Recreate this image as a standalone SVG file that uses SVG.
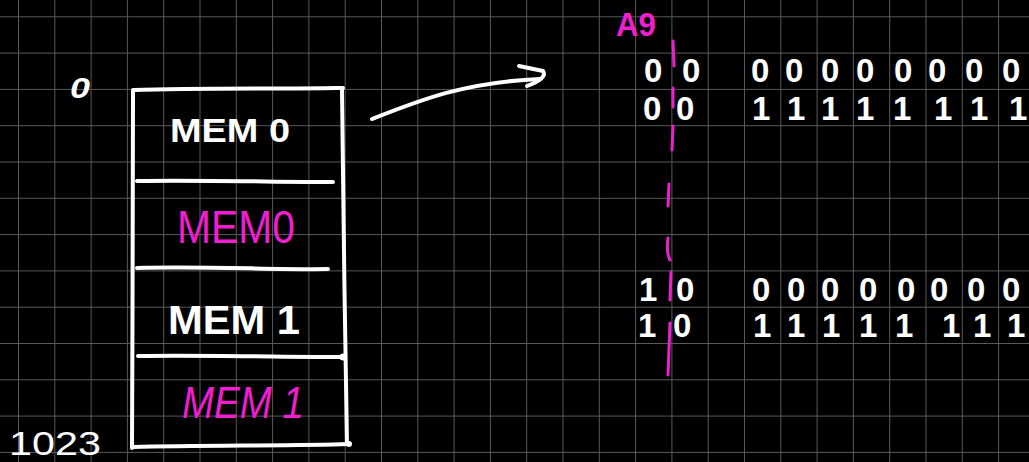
<svg xmlns="http://www.w3.org/2000/svg" width="1029" height="462" viewBox="0 0 1029 462">
<defs>
<pattern id="grid" x="18" y="16.3" width="36.3" height="36.3" patternUnits="userSpaceOnUse">
<path d="M0.5,0 V36.3 M0,0.5 H36.3" stroke="#5a5a5a" stroke-width="1" fill="none"/>
</pattern>
</defs>
<style>
.ink{fill:none;stroke:#ffffff;stroke-width:4;stroke-linecap:round;stroke-linejoin:round}
.pink{fill:none;stroke:#ef1fcf;stroke-width:3;stroke-linecap:round}
.w{fill:#ffffff;font-family:"Liberation Sans",Arial,sans-serif;font-weight:bold}
.m{fill:#ef1fcf;font-family:"Liberation Sans",Arial,sans-serif}
.d{fill:#ffffff;font-family:"Liberation Sans",Arial,sans-serif;font-weight:bold;font-size:33px}
</style>
<rect width="1029" height="462" fill="#000"/>
<rect width="1029" height="462" fill="url(#grid)"/>

<g id="memory-block">
<path class="ink" d="M133,92 C132,200 133,330 132,448"/>
<path class="ink" d="M133,90 C200,88 280,89 337,88 L343,88"/>
<path class="ink" d="M342,90 C343,200 345,330 347,444"/>
<path class="ink" d="M137,181 C200,180 280,182 333,182"/>
<path class="ink" d="M137,268 C200,266 280,270 328,269"/>
<path class="ink" d="M138,356 C200,355 290,357 343,357"/>
<path class="ink" d="M133,447 C200,445 290,446 349,444"/>
<circle cx="343" cy="357" r="3.5" fill="#fff"/>
<circle cx="349" cy="444" r="3" fill="#fff"/>
</g>

<g id="mem0-white">
<text class="w" x="170" y="142" font-size="34" textLength="120" lengthAdjust="spacingAndGlyphs">MEM 0</text>
</g>
<g id="mem0-pink">
<text class="m" x="177" y="243" font-size="46" textLength="118" lengthAdjust="spacingAndGlyphs">MEM0</text>
</g>
<g id="mem1-white">
<text class="w" x="168" y="334" font-size="40" textLength="132" lengthAdjust="spacingAndGlyphs">MEM 1</text>
</g>
<g id="mem1-pink">
<text class="m" x="182" y="418" font-size="44" font-style="italic" textLength="122" lengthAdjust="spacingAndGlyphs">MEM 1</text>
</g>

<g id="addr-labels">
<text class="w" x="70" y="98" font-size="29" font-style="italic" textLength="20" lengthAdjust="spacingAndGlyphs">0</text>
<text class="w" x="9" y="455" font-size="34" style="font-weight:normal" textLength="92" lengthAdjust="spacingAndGlyphs">1023</text>
<text class="m" x="616" y="36" font-size="34" font-weight="bold" textLength="40" lengthAdjust="spacingAndGlyphs">A9</text>
</g>

<g id="connectors">
<path class="ink" d="M372,119 C420,100 465,82 540,79"/>
<path class="ink" d="M519,66 L543,71 Q548,78 527,86"/>
<path class="pink" d="M673,41 L674,66"/>
<path class="pink" d="M673,88 L673,107"/>
<path class="pink" d="M673,126 L672,150"/>
<path class="pink" d="M669,184 L668,206"/>
<path class="pink" d="M668,238 Q666,252 670,260"/>
<path class="pink" d="M671,272 L670,300"/>
<path class="pink" d="M670,323 L668,375"/>
</g>

<g id="bits">
<text class="d" x="644 682 751 785 821 856 894 928 965 1002" y="82">0000000000</text>
<text class="d" x="643 676 752 787 821 856 893 934 970 1009" y="120">0011111111</text>
<text class="d" x="639 676 752 787 821 859 897 930 967 1002" y="301">1000000000</text>
<text class="d" x="638 673 753 787 822 859 895 942 973 1007" y="337">1011111111</text>
</g>
</svg>
